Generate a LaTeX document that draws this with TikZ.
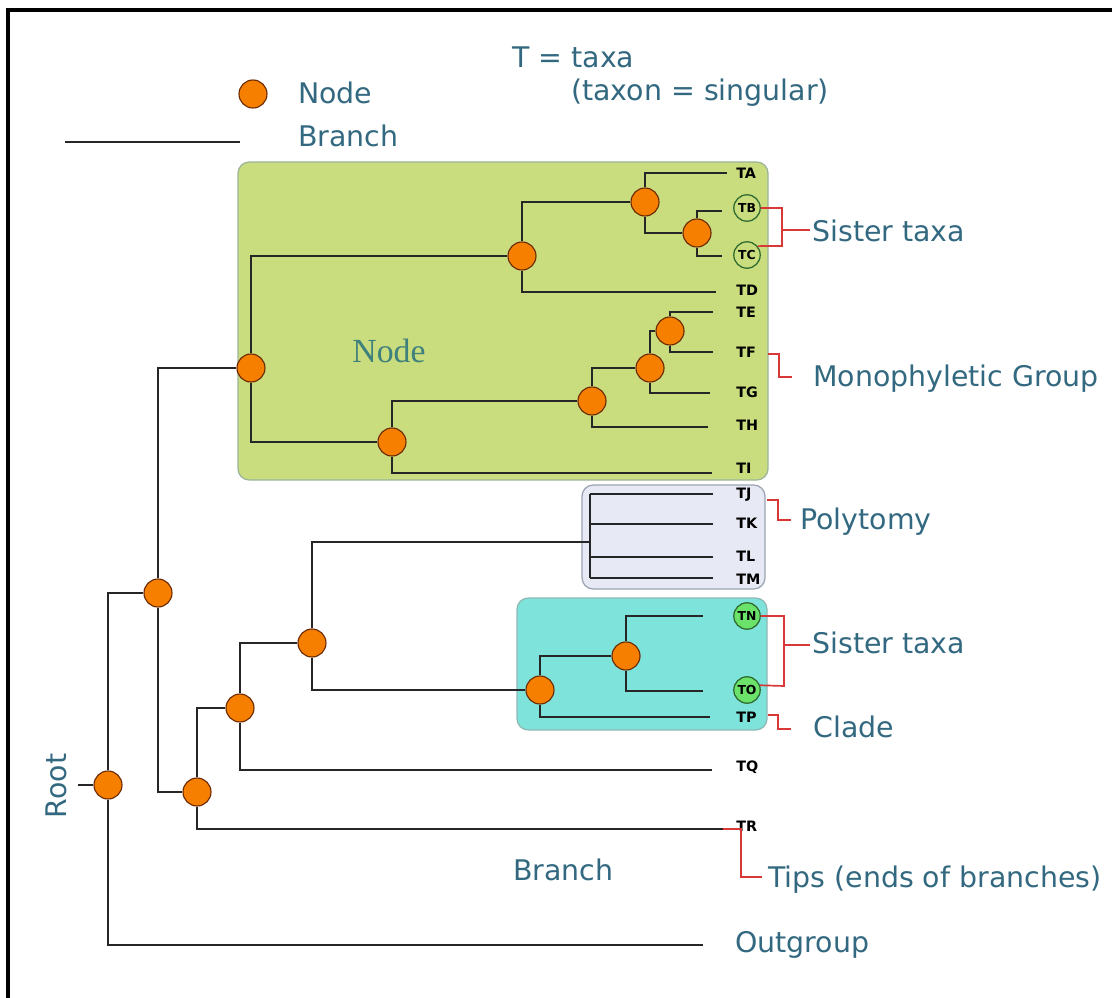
\documentclass[tikz,border=0pt]{standalone}
\usepackage{fontspec}
\setmainfont{DejaVu Sans}
\newfontfamily\serifn{Liberation Serif}
\definecolor{labblue}{HTML}{336980}
\definecolor{nodeorange}{HTML}{F77F00}
\definecolor{nodeborder}{HTML}{6B2A00}
\definecolor{greenbox}{HTML}{C9DC7E}
\definecolor{greenboxb}{HTML}{9DB49A}
\definecolor{cyanbox}{HTML}{7EE3DA}
\definecolor{cyanboxb}{HTML}{8FB9B6}
\definecolor{polybox}{HTML}{E7E9F4}
\definecolor{polyboxb}{HTML}{9CA3B3}
\definecolor{bracketred}{HTML}{D83838}
\definecolor{tipgreen}{HTML}{6BE36B}
\definecolor{tipgreenb}{HTML}{2F6B2F}
\definecolor{serifteal}{HTML}{3E807C}
\begin{document}
\begin{tikzpicture}[x=0.025cm,y=-0.025cm,
  inode/.style={circle,fill=nodeorange,draw=nodeborder,line width=0.8pt,minimum size=0.7cm,inner sep=0pt},
  branch/.style={line width=1.3pt,draw=black!85},
  bracket/.style={line width=1.2pt,draw=bracketred},
  lab/.style={inner sep=0pt,anchor=base west,text=labblue,font=\fontsize{20.2}{22}\selectfont},
  tiplab/.style={inner sep=0pt,anchor=west,font=\bfseries\fontsize{10.2}{11}\selectfont},
  tipcirc/.style={circle,draw=tipgreenb,line width=0.9pt,minimum size=0.66cm,inner sep=0pt,font=\bfseries\fontsize{8.8}{9}\selectfont},
  boxstyle/.style={rounded corners=8pt,line width=0.9pt}
]
\useasboundingbox (0,0) rectangle (1112,998);
\clip (0,0) rectangle (1112,998);
\fill[white] (0,0) rectangle (1112,998);
% frame
\draw[line width=2.2pt] (8,1010) -- (8,10) -- (1120,10);

% shaded boxes
\draw[boxstyle,fill=greenbox,draw=greenboxb] (238,162) rectangle (768,480);
\draw[boxstyle,fill=polybox,draw=polyboxb] (582,485) rectangle (765,589);
\draw[boxstyle,fill=cyanbox,draw=cyanboxb] (517,598) rectangle (767,730);

% legend
\node[inode] (L) at (253,94) {};
\node[lab] (legNode) at (298,104) {Node};
\coordinate (lb1) at (65,142);
\coordinate (lb2) at (240,142);
\draw[branch] (lb1) -- (lb2);
\node[lab] (legBranch) at (298,147) {Branch};
\node[lab] (tt) at (512,68) {T = taxa};
\node[lab] (ts) at (571,101) {(taxon = singular)};

% internal nodes
\node[inode] (R) at (108,785) {};
\node[inode] (N1) at (158,593) {};
\node[inode] (N2) at (197,792) {};
\node[inode] (N3) at (240,708) {};
\node[inode] (N4) at (312,643) {};
\node[inode] (N5) at (540,690) {};
\node[inode] (N6) at (626,656) {};
\node[inode] (G0) at (251,368) {};
\node[inode] (Gu) at (522,256) {};
\node[inode] (Gt) at (645,202) {};
\node[inode] (Gs) at (697,233) {};
\node[inode] (Gl) at (392,442) {};
\node[inode] (Gm) at (592,401) {};
\node[inode] (Gf) at (650,368) {};
\node[inode] (Ge) at (670,331) {};

% tip ends
\coordinate (rs) at (78,785);
\coordinate (tOut) at (703,945);
\coordinate (tR) at (725,829);
\coordinate (tQ) at (712,770);
\coordinate (pv) at (590,542);
\coordinate (tP) at (710,717);
\coordinate (tN) at (703,616);
\coordinate (tO) at (703,691);
\coordinate (tA) at (727,173);
\coordinate (tB) at (722,211);
\coordinate (tC) at (722,256);
\coordinate (tD) at (716,292);
\coordinate (tE) at (713,312);
\coordinate (tF) at (713,352);
\coordinate (tG) at (710,393);
\coordinate (tH) at (708,427);
\coordinate (tI) at (712,473);
\coordinate (pJ0) at (590,494);
\coordinate (pK0) at (590,524);
\coordinate (pL0) at (590,557);
\coordinate (pM0) at (590,578);
\coordinate (tJ) at (713,494);
\coordinate (tK) at (713,524);
\coordinate (tL) at (713,557);
\coordinate (tM) at (713,578);

% branches
\draw[branch] (rs) -- (R);
\draw[branch] (R) |- (N1);
\draw[branch] (R) |- (tOut);
\draw[branch] (N1) |- (G0);
\draw[branch] (N1) |- (N2);
\draw[branch] (N2) |- (N3);
\draw[branch] (N2) |- (tR);
\draw[branch] (N3) |- (N4);
\draw[branch] (N3) |- (tQ);
\draw[branch] (N4) |- (pv);
\draw[branch] (N4) |- (N5);
\draw[branch] (N5) |- (N6);
\draw[branch] (N5) |- (tP);
\draw[branch] (N6) |- (tN);
\draw[branch] (N6) |- (tO);
\draw[branch] (G0) |- (Gu);
\draw[branch] (G0) |- (Gl);
\draw[branch] (Gu) |- (Gt);
\draw[branch] (Gu) |- (tD);
\draw[branch] (Gt) |- (tA);
\draw[branch] (Gt) |- (Gs);
\draw[branch] (Gs) |- (tB);
\draw[branch] (Gs) |- (tC);
\draw[branch] (Gl) |- (Gm);
\draw[branch] (Gl) |- (tI);
\draw[branch] (Gm) |- (Gf);
\draw[branch] (Gm) |- (tH);
\draw[branch] (Gf) |- (Ge);
\draw[branch] (Gf) |- (tG);
\draw[branch] (Ge) |- (tE);
\draw[branch] (Ge) |- (tF);
\draw[branch] (pJ0) -- (pM0);
\draw[branch] (pJ0) -- (tJ);
\draw[branch] (pK0) -- (tK);
\draw[branch] (pL0) -- (tL);
\draw[branch] (pM0) -- (tM);

% tip labels
\node[tiplab] (TA) at (736,173) {TA};
\node[tipcirc] (TB) at (747,208) {TB};
\node[tipcirc] (TC) at (747,255) {TC};
\node[tiplab] (TD) at (736,290) {TD};
\node[tiplab] (TE) at (736,312) {TE};
\node[tiplab] (TF) at (736,352) {TF};
\node[tiplab] (TG) at (736,392) {TG};
\node[tiplab] (TH) at (736,425) {TH};
\node[tiplab] (TI) at (736,468) {TI};
\node[tiplab] (TJ) at (736,495) {TJ};
\node[tiplab] (TK) at (736,523) {TK};
\node[tiplab] (TL) at (736,556) {TL};
\node[tiplab] (TM) at (736,579) {TM};
\node[tipcirc,fill=tipgreen] (TN) at (747,616) {TN};
\node[tipcirc,fill=tipgreen] (TO) at (747,690) {TO};
\node[tiplab] (TP) at (736,717) {TP};
\node[tiplab] (TQ) at (736,767) {TQ};
\node[tiplab] (TR) at (736,826) {TR};

% big serif label in the green box
\node[font=\serifn\fontsize{24}{26}\selectfont,text=serifteal,anchor=base,inner sep=0pt] (nodeword) at (389,362) {Node};

% right-hand labels
\node[lab] (sisU) at (812,241) {Sister taxa};
\node[lab] (mono) at (813,386) {Monophyletic Group};
\node[lab] (poly) at (800,529) {Polytomy};
\node[lab] (sisL) at (812,653) {Sister taxa};
\node[lab] (clade) at (813,737) {Clade};
\node[lab] (branchlow) at (513,880) {Branch};
\node[lab] (tips) at (768,887) {Tips (ends of branches)};
\node[lab] (outg) at (735,952) {Outgroup};
\node[lab,rotate=90,anchor=base] (root) at (66,786) {Root};

% red brackets
\coordinate (bU1) at (782,208);
\coordinate (bU2) at (782,246);
\coordinate (bUm) at (782,230);
\coordinate (bUe) at (810,230);
\draw[bracket] (TB.east) -- (bU1) -- (bU2) -- (TC.40);
\draw[bracket] (bUm) -- (bUe);
\coordinate (bL1) at (784,616);
\coordinate (bL2) at (784,686);
\coordinate (bLm) at (784,645);
\coordinate (bLe) at (810,645);
\draw[bracket] (TN.east) -- (bL1) -- (bL2) -- (TO.20);
\draw[bracket] (bLm) -- (bLe);
\coordinate (m0) at (768,354);
\coordinate (m1) at (779,354);
\coordinate (m2) at (779,377);
\coordinate (m3) at (792,377);
\draw[bracket] (m0) -- (m1) -- (m2) -- (m3);
\coordinate (p0) at (767,500);
\coordinate (p1) at (778,500);
\coordinate (p2) at (778,520);
\coordinate (p3) at (791,520);
\draw[bracket] (p0) -- (p1) -- (p2) -- (p3);
\coordinate (c0) at (768,715);
\coordinate (c1) at (778,715);
\coordinate (c2) at (778,729);
\coordinate (c3) at (791,729);
\draw[bracket] (c0) -- (c1) -- (c2) -- (c3);
\coordinate (r0) at (723,829);
\coordinate (r1) at (741,829);
\coordinate (r2) at (741,877);
\coordinate (r3) at (762,877);
\draw[bracket] (r0) -- (r1) -- (r2) -- (r3);
\end{tikzpicture}
\end{document}
